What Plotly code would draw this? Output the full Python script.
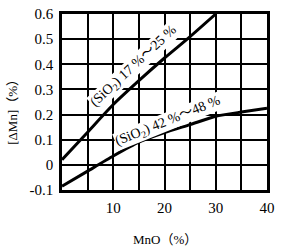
import plotly.graph_objects as go

mno = [0, 5, 10, 15, 20, 25, 30]
dmn_low_sio2 = [0.02, 0.13, 0.24, 0.335, 0.425, 0.51, 0.60]
mno2 = [0, 5, 10, 15, 20, 25, 30, 35, 40]
dmn_high_sio2 = [-0.085, -0.025, 0.035, 0.09, 0.128, 0.16, 0.193, 0.21, 0.225]

x_ticks = [5, 10, 15, 20, 25, 30, 35, 40]
x_ticktext = ["", "10", "", "20", "", "30", "", "40"]
y_ticks = [-0.1, 0, 0.1, 0.2, 0.3, 0.4, 0.5, 0.6]
y_ticktext = ["-0.1", "0", "0.1", "0.2", "0.3", "0.4", "0.5", "0.6"]

font_serif = "'Liberation Serif', 'DejaVu Serif', 'Noto Sans CJK SC', serif"

fig = go.Figure()
fig.add_trace(go.Scatter(x=mno, y=dmn_low_sio2, mode="lines",
                         line=dict(color="black", width=3, shape="spline", smoothing=0.6)))
fig.add_trace(go.Scatter(x=mno2, y=dmn_high_sio2, mode="lines",
                         line=dict(color="black", width=3, shape="spline", smoothing=0.6)))

fig.add_annotation(x=14.0, y=0.39, text="(SiO<sub>2</sub>) 17 %～25 %", showarrow=False,
                   textangle=-43, bgcolor="white", borderpad=0,
                   font=dict(family=font_serif, size=14, color="black"))
fig.add_annotation(x=20.6, y=0.172, text="(SiO<sub>2</sub>) 42 %～48 %", showarrow=False,
                   textangle=-22, bgcolor="white", borderpad=0,
                   font=dict(family=font_serif, size=14, color="black"))

fig.add_annotation(xref="paper", yref="paper", x=0.5, y=-0.28, yanchor="middle",
                   text="MnO（%）", showarrow=False,
                   font=dict(family=font_serif, size=13, color="black"))
fig.add_annotation(xref="paper", yref="paper", x=-0.245, y=0.46, xanchor="center",
                   text="[ΔMn]（%）", showarrow=False, textangle=-90,
                   font=dict(family=font_serif, size=13, color="black"))

fig.update_layout(
    width=281, height=248,
    margin=dict(l=62, r=9, t=6, b=58),
    plot_bgcolor="white", paper_bgcolor="white",
    showlegend=False,
    font=dict(family=font_serif, size=15, color="black"),
)
fig.update_xaxes(range=[0, 40], tickvals=x_ticks, ticktext=x_ticktext,
                 showgrid=True, gridcolor="black", gridwidth=2,
                 showline=True, linecolor="black", linewidth=2.5, mirror=True,
                 ticks="", zeroline=False, ticklabelstandoff=2)
fig.update_yaxes(range=[-0.1, 0.6], tickvals=y_ticks, ticktext=y_ticktext,
                 showgrid=True, gridcolor="black", gridwidth=2,
                 showline=True, linecolor="black", linewidth=2.5, mirror=True,
                 ticks="", zeroline=False, ticklabelstandoff=3)

fig.write_html("out.html")
